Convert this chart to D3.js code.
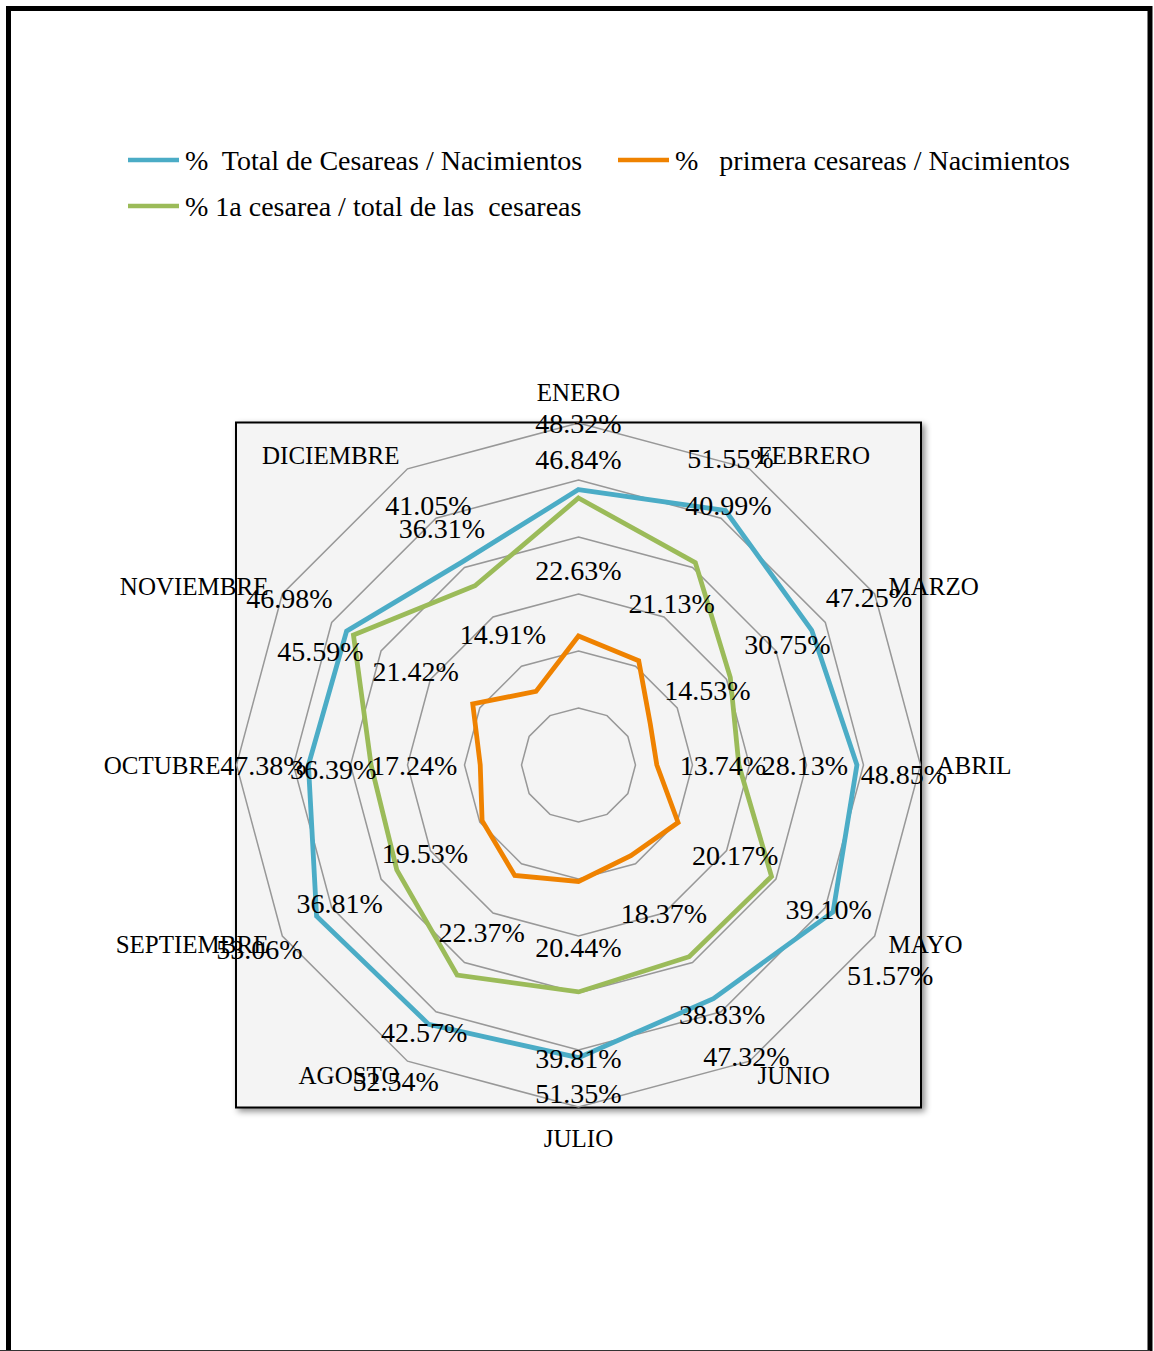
<!DOCTYPE html>
<html>
<head>
<meta charset="utf-8">
<script src="https://cdn.jsdelivr.net/npm/d3@7"></script>
<style>
  html, body { margin: 0; padding: 0; background: #ffffff; }
  svg { display: block; }
  text { font-family: "Liberation Serif", "DejaVu Serif", serif; fill: #000; white-space: pre; }
</style>
</head>
<body>
<svg id="chart" width="1154" height="1351"></svg>
<script>
// Months around the radar, clockwise from the top
const months = ["ENERO", "FEBRERO", "MARZO", "ABRIL", "MAYO", "JUNIO",
                "JULIO", "AGOSTO", "SEPTIEMBRE", "OCTUBRE", "NOVIEMBRE", "DICIEMBRE"];

// % Total de Cesareas / Nacimientos
const totalCesareas = [48.32, 51.55, 47.25, 48.85, 51.57, 47.32, 51.35, 52.54, 53.06, 47.38, 46.98, 41.05];
// % primera cesareas / Nacimientos
const primeraCesareas = [22.63, 21.13, 14.53, 13.74, 20.17, 18.37, 20.44, 22.37, 19.53, 17.24, 21.42, 14.91];
// % 1a cesarea / total de las cesareas
const primeraSobreTotal = [46.84, 40.99, 30.75, 28.13, 39.10, 38.83, 39.81, 42.57, 36.81, 36.39, 45.59, 36.31];

// Gridline rings (percent)
const ringTicks = [10, 20, 30, 40, 50, 60];

const seriesNames = ["%  Total de Cesareas / Nacimientos",
                     "%   primera cesareas / Nacimientos",
                     "% 1a cesarea / total de las  cesareas"];

const series = [
  { name: seriesNames[0], values: totalCesareas,     color: "#4bacc6" },
  { name: seriesNames[1], values: primeraCesareas,   color: "#ef8200" },
  { name: seriesNames[2], values: primeraSobreTotal, color: "#9bbb59" }
];

// Hand nudges for data labels that would otherwise collide (series index, month index) -> [dx, dy]
const labelNudge = {
  "2-0": [0, 27], "0-1": [-28, 5], "0-3": [-19, 9], "0-4": [0, 30],
  "0-6": [0, -30], "0-9": [21, 0], "2-9": [28, 4], "2-10": [24, 49]
};

const svg = d3.select("#chart");
const cx = 578.5, cy = 765, R = 342;
const labelSize = 28, catSize = 25, legendSize = 28;

// Outer page frame (bottom edge runs off the page)
svg.append("path")
  .attr("d", `M8.5,1360 V8.5 H1150 V1360`)
  .attr("fill", "none").attr("stroke", "#000").attr("stroke-width", 5);
svg.append("line")
  .attr("x1", 0).attr("x2", 1150).attr("y1", 1350.5).attr("y2", 1350.5)
  .attr("stroke", "#333").attr("stroke-width", 1);

// Drop shadow for the plot area
const defs = svg.append("defs");
const f = defs.append("filter").attr("id", "shadow")
  .attr("x", "-5%").attr("y", "-5%").attr("width", "115%").attr("height", "115%");
f.append("feDropShadow").attr("dx", 3).attr("dy", 3).attr("stdDeviation", 3)
  .attr("flood-color", "#000").attr("flood-opacity", 0.45);

svg.append("rect")
  .attr("x", cx - R - 0.5).attr("y", cy - R - 0.5)
  .attr("width", 2 * R + 1).attr("height", 2 * R + 1)
  .attr("fill", "#f4f4f4").attr("stroke", "#000").attr("stroke-width", 2)
  .attr("filter", "url(#shadow)");

// Scales
const rScale = d3.scaleLinear().domain([0, 60]).range([0, R]);
const angle = d3.scaleLinear().domain([0, months.length]).range([0, 2 * Math.PI]);

const radial = d3.lineRadial()
  .angle((d, i) => angle(i))
  .radius(d => rScale(d))
  .curve(d3.curveLinearClosed);

const g = svg.append("g").attr("transform", `translate(${cx},${cy})`);

// Gridline polygons
g.selectAll("path.ring")
  .data(ringTicks)
  .join("path")
  .attr("class", "ring")
  .attr("d", t => radial(months.map(() => t)))
  .attr("fill", "none")
  .attr("stroke", "#989898")
  .attr("stroke-width", 1.5);

// Series lines
g.selectAll("path.series")
  .data(series)
  .join("path")
  .attr("class", "series")
  .attr("d", s => radial(s.values))
  .attr("fill", "none")
  .attr("stroke", s => s.color)
  .attr("stroke-width", 4.8)
  .attr("stroke-linejoin", "miter");

// Category labels outside the outer ring
const polar = (a, rad) => [Math.sin(a) * rad, -Math.cos(a) * rad];
g.selectAll("text.cat")
  .data(months)
  .join("text")
  .attr("class", "cat")
  .each(function (m, i) {
    const a = angle(i);
    const s = Math.sin(a);
    const onAxis = Math.abs(s) < 1e-6;
    const [x, y] = polar(a, R + (onAxis ? 31 : 16));
    d3.select(this)
      .attr("x", x).attr("y", y).attr("dy", "0.35em")
      .attr("text-anchor", onAxis ? "middle" : (s > 0 ? "start" : "end"))
      .attr("font-size", catSize)
      .text(m);
  });

// Data labels
const fmt = d3.format(".2f");
series.forEach((s, si) => {
  g.selectAll(`text.lbl${si}`)
    .data(s.values)
    .join("text")
    .attr("class", `lbl${si}`)
    .each(function (v, i) {
      const a = angle(i);
      const [x, y] = polar(a, rScale(v) + 66);
      const nd = labelNudge[`${si}-${i}`] || [0, 0];
      d3.select(this)
        .attr("x", x + nd[0]).attr("y", y + nd[1]).attr("dy", "0.35em")
        .attr("text-anchor", "middle")
        .attr("font-size", labelSize)
        .text(fmt(v) + "%");
    });
});

// Legend
const legendItems = [
  { s: series[0], x: 128, y: 160 },
  { s: series[1], x: 618, y: 160 },
  { s: series[2], x: 128, y: 206 }
];
const lg = svg.append("g");
legendItems.forEach(it => {
  lg.append("line")
    .attr("x1", it.x).attr("x2", it.x + 51)
    .attr("y1", it.y).attr("y2", it.y)
    .attr("stroke", it.s.color).attr("stroke-width", 4.5);
  lg.append("text")
    .attr("x", it.x + 57).attr("y", it.y).attr("dy", "0.35em")
    .attr("font-size", legendSize)
    .text(it.s.name);
});
</script>
</body>
</html>
